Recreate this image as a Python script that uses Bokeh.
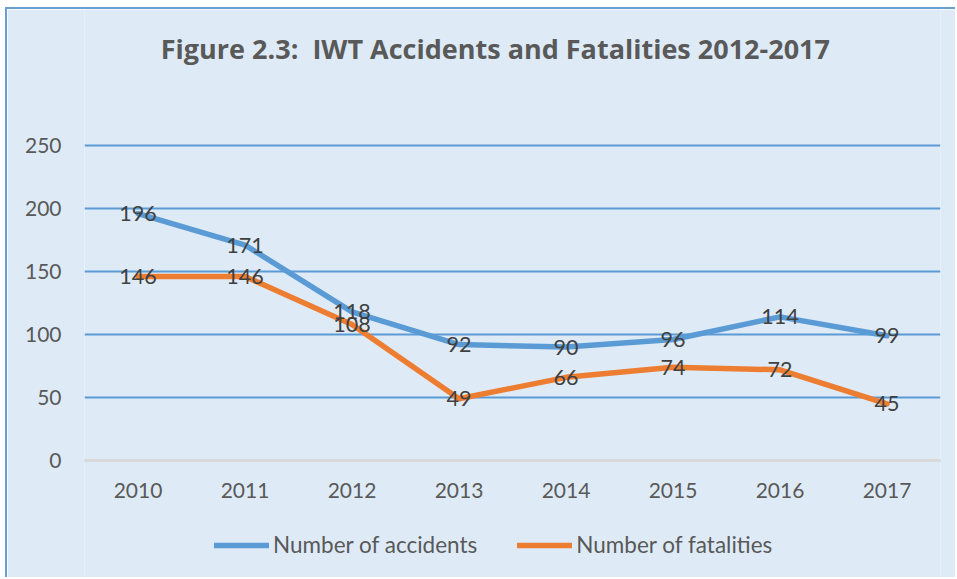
from bokeh.plotting import figure
from bokeh.models import FactorRange, Range1d, ColumnDataSource, Label, Legend, LegendItem, FixedTicker
from bokeh.core.properties import value
from bokeh.embed import file_html
from bokeh.resources import INLINE

years = ["2010", "2011", "2012", "2013", "2014", "2015", "2016", "2017"]
accidents = [196, 171, 118, 92, 90, 96, 114, 99]
fatalities = [146, 146, 108, 49, 66, 74, 72, 45]
y_ticks = [0, 50, 100, 150, 200, 250]
title_text = "Figure 2.3:\u00a0 IWT Accidents and Fatalities 2012-2017"
series_names = ["Number of accidents", "Number of fatalities"]

BG = "#DEEBF7"
BLUE = "#5B9BD5"
ORANGE = "#ED7D31"
GRAY = "#595959"
FONT = "Lato"

# pixel layout: 0 at y=451 (figure px), 250 at y=136, figure height 570
W, H = 950, 570
zero_px, top_px = 451, 136
ppu = (zero_px - top_px) / 250.0
y_start = -(H - zero_px) / ppu
y_end = 250 + top_px / ppu

p = figure(width=W, height=H, x_range=FactorRange(factors=years),
           y_range=Range1d(y_start, y_end), output_backend="svg", toolbar_location=None,
           min_border_left=77, min_border_right=17, min_border_top=0, min_border_bottom=0)
p.background_fill_color = BG
p.border_fill_color = BG
p.outline_line_color = None
p.styles = {"margin-left": "5px", "margin-top": "7px",
            "border-left": "2px solid #6A9FD5", "border-top": "2px solid #6A9FD5"}

p.yaxis.ticker = FixedTicker(ticks=y_ticks)
p.ygrid.grid_line_color = BLUE
p.ygrid.grid_line_width = 2
p.xgrid.grid_line_color = None

for ax in (p.xaxis[0], p.yaxis[0]):
    ax.major_tick_line_color = None
    ax.minor_tick_line_color = None
    ax.major_label_text_font = FONT
    ax.major_label_text_font_size = "21px"
    ax.major_label_text_color = GRAY
p.yaxis.axis_line_color = None
p.yaxis.major_label_standoff = 17
p.xaxis.fixed_location = 0
p.xaxis.axis_line_color = "#D9D9D9"
p.xaxis.axis_line_width = 3
p.xaxis.major_label_standoff = 16

src = ColumnDataSource(dict(x=years, acc=accidents, fat=fatalities,
                            acc_t=[str(v) for v in accidents],
                            fat_t=[str(v) for v in fatalities]))

r1 = p.line("x", "acc", source=src, line_color=BLUE, line_width=5.5, line_join="round", line_cap="round")
r2 = p.line("x", "fat", source=src, line_color=ORANGE, line_width=5.5, line_join="round", line_cap="round")

for col, ycol in (("acc_t", "acc"), ("fat_t", "fat")):
    p.text(x="x", y=ycol, text=col, source=src, text_align="center", text_baseline="middle",
           text_font=value(FONT), text_font_size="21.5px", text_color="#404040")

p.add_layout(Label(x=3.84, y=250 + (top_px - 39) / ppu, text=title_text,
                   text_align="center", text_baseline="middle",
                   text_font="Open Sans", text_font_size="27px", text_font_style="bold",
                   text_color=GRAY))

legend = Legend(items=[LegendItem(label=series_names[0], renderers=[r1]),
                       LegendItem(label=series_names[1], renderers=[r2])],
                location=(130, 21), orientation="horizontal",
                glyph_width=55, glyph_height=20, label_standoff=4, spacing=40,
                padding=0, margin=0, border_line_color=None, background_fill_alpha=0,
                label_text_font=FONT, label_text_font_size="22.5px", label_text_color=GRAY)
p.add_layout(legend, "center")

open("out.html", "w").write(file_html(p, INLINE))
